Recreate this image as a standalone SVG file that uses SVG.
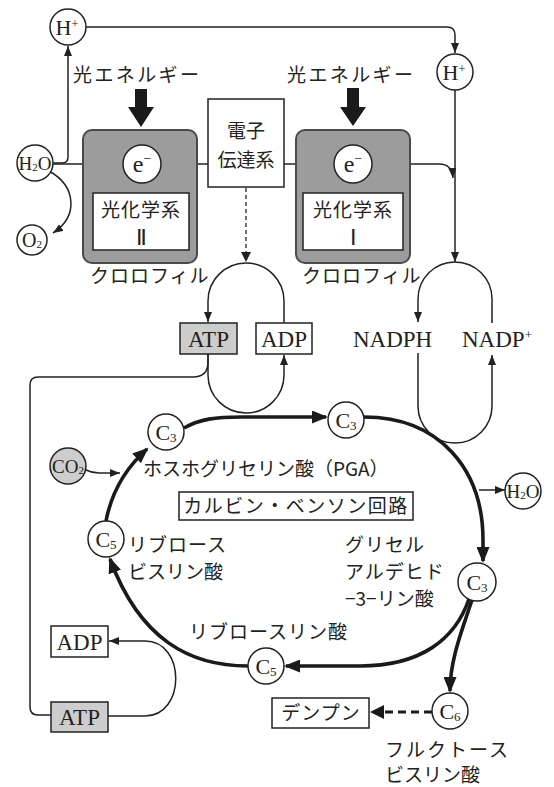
<svg xmlns="http://www.w3.org/2000/svg" width="554" height="787" viewBox="0 0 554 787">
<defs>
<marker id="a" markerUnits="userSpaceOnUse" markerWidth="10" markerHeight="8" refX="10" refY="4" orient="auto"><path d="M0,0 L10,4 L0,8 z" fill="#222"/></marker>
<marker id="b" markerUnits="userSpaceOnUse" markerWidth="16" markerHeight="13" refX="14" refY="6.5" orient="auto"><path d="M0,0 L16,6.5 L0,13 z" fill="#1a1a1a"/></marker>
<style>
.ln{fill:none;stroke:#222;stroke-width:1.5}
.tk{fill:none;stroke:#1a1a1a;stroke-width:3.6}
.nd{fill:#fff;stroke:#222;stroke-width:1.5}
.gr{fill:#cdcdcd;stroke:#222;stroke-width:1.5}
.ps{fill:#9c9c9c;stroke:#4a4a4a;stroke-width:2}
.jp{font-family:"Noto Sans CJK JP",sans-serif;font-size:19px;fill:#222}
.la{font-family:"Liberation Serif",serif;fill:#222}
.c{text-anchor:middle}
</style>
</defs>

<g id="connectors">
<path class="ln" d="M86,27 H447 Q455,27 455,35 V53" marker-end="url(#a)"/>
<path class="ln" d="M53,163 H62 Q68,163 68,157 V46" marker-end="url(#a)"/>
<path class="ln" d="M49,171 C76,186 79,216 53,233" marker-end="url(#a)"/>
<path class="ln" d="M53,164 H123"/>
<path class="ln" d="M161,164 H208"/>
<path d="M180,159 L190,164 L180,169 z" fill="#222"/>
<path class="ln" d="M284,164 H334"/>
<path d="M303,159 L313,164 L303,169 z" fill="#222"/>
<path class="ln" d="M372,164 H439 Q452,164 453,178" marker-end="url(#a)"/>
<path class="ln" d="M455,90 V262" marker-end="url(#a)"/>
<path fill="none" stroke="#222" stroke-width="1.3" stroke-dasharray="4,3" d="M246,188 V254"/>
<path d="M241,252 L246,262 L251,252 z" fill="#222"/>
<path class="ln" d="M284,323 V301 A38,38 0 0 0 208,301 V322" marker-end="url(#a)"/>
<path class="ln" d="M208,354 V375 A38,38 0 0 0 284,375 V355" marker-end="url(#a)"/>
<path class="ln" d="M492,323 V299 A37,37 0 0 0 418,299 V322" marker-end="url(#a)"/>
<path class="ln" d="M418,353 V406 A37,37 0 0 0 492,406 V355" marker-end="url(#a)"/>
<path class="ln" d="M208,354 V362 Q208,377 193,377 H38 Q30,377 30,385 V707 Q30,715 38,715 H51"/>
<path class="ln" d="M108,716 H145 C186,716 186,641 145,641 H109" marker-end="url(#a)"/>
<path class="ln" d="M86,470 Q92,473 99,473 H120" marker-end="url(#a)"/>
<path class="ln" d="M479,490 H505" marker-end="url(#a)"/>
<path class="tk" d="M184,428 C200,419 215,417 242,417 H326" marker-end="url(#b)"/>
<path class="tk" d="M364,417 C440,417 483,470 483,540 V561" marker-end="url(#b)"/>
<path class="tk" d="M469,599 C455,640 420,666 360,666 H286" marker-end="url(#b)"/>
<path class="tk" d="M472,600 C462,630 450,660 450,691" marker-end="url(#b)"/>
<path class="tk" d="M248,666 C190,666 140,640 110,559" marker-end="url(#b)"/>
<path class="tk" d="M106,521 C112,490 128,466 147,449" marker-end="url(#b)"/>
<path fill="none" stroke="#1a1a1a" stroke-width="3" stroke-dasharray="8,5" d="M432,712 H380"/>
<path d="M384,705 L370,712 L384,719 z" fill="#1a1a1a"/>
</g>

<g id="light1">
<text class="jp" x="73" y="82" style="letter-spacing:2.4px">光エネルギー</text>
<path d="M135,89 H147 V107 H154 L141,127 L128,107 H135 z" fill="#1a1a1a"/>
</g>
<g id="light2">
<text class="jp" x="287" y="82" style="letter-spacing:2.4px">光エネルギー</text>
<path d="M347,88 H359 V107 H366 L353,126 L340,107 H347 z" fill="#1a1a1a"/>
</g>

<g id="hplus1"><circle class="nd" cx="68" cy="27" r="18"/><text class="la c" x="67" y="35" font-size="22">H<tspan font-size="13" dy="-7">+</tspan></text></g>
<g id="hplus2"><circle class="nd" cx="455" cy="72" r="18"/><text class="la c" x="454" y="80" font-size="22">H<tspan font-size="13" dy="-7">+</tspan></text></g>
<g id="h2o1"><circle class="nd" cx="35" cy="163" r="18"/><text class="la c" x="35" y="170" font-size="19">H<tspan font-size="11" dy="1">2</tspan><tspan dy="-1">O</tspan></text></g>
<g id="o2"><circle class="nd" cx="32" cy="240" r="15"/><text class="la c" x="32" y="247" font-size="20">O<tspan font-size="11" dy="1">2</tspan></text></g>

<g id="ps2">
<rect class="ps" x="83" y="130" width="114" height="133" rx="9"/>
<circle class="nd" cx="142" cy="164" r="19"/>
<text class="la c" x="142" y="172" font-size="24">e<tspan font-size="14" dy="-9">−</tspan></text>
<rect x="93" y="193" width="96" height="57" fill="#fff" stroke="#222" stroke-width="1.5"/>
<text class="jp c" x="141" y="217" font-size="21" style="letter-spacing:1px">光化学系</text>
<text class="la c" x="141" y="245" font-size="22">Ⅱ</text>
<text class="jp" x="90" y="283" font-size="16" style="letter-spacing:1px">クロロフィル</text>
</g>

<g id="ets">
<rect x="208" y="99" width="76" height="88" fill="#fff" stroke="#222" stroke-width="1.5"/>
<text class="jp c" x="246" y="138" font-size="21">電子</text>
<text class="jp c" x="246" y="167" font-size="21">伝達系</text>
</g>

<g id="ps1">
<rect class="ps" x="296" y="130" width="114" height="133" rx="9"/>
<circle class="nd" cx="353" cy="164" r="19"/>
<text class="la c" x="353" y="172" font-size="24">e<tspan font-size="14" dy="-9">−</tspan></text>
<rect x="303" y="193" width="100" height="57" fill="#fff" stroke="#222" stroke-width="1.5"/>
<text class="jp c" x="353" y="217" font-size="21" style="letter-spacing:1px">光化学系</text>
<text class="la c" x="353" y="245" font-size="22">Ⅰ</text>
<text class="jp" x="302" y="283" font-size="16" style="letter-spacing:1px">クロロフィル</text>
</g>

<g id="atp1"><rect class="gr" x="180" y="323" width="57" height="31"/><text class="la c" x="208.5" y="347" font-size="23">ATP</text></g>
<g id="adp1"><rect class="nd" x="256" y="323" width="56" height="31"/><text class="la c" x="284" y="347" font-size="23">ADP</text></g>
<g id="nadph"><text class="la" x="353" y="347" font-size="23">NADPH</text></g>
<g id="nadp"><text class="la" x="462" y="347" font-size="23">NADP<tspan font-size="13" dy="-8">+</tspan></text></g>

<g id="c3a"><circle class="nd" cx="166" cy="432" r="18"/><text class="la c" x="166" y="440" font-size="22">C<tspan font-size="13" dy="2">3</tspan></text></g>
<g id="c3b"><circle class="nd" cx="346" cy="420" r="18"/><text class="la c" x="346" y="428" font-size="22">C<tspan font-size="13" dy="2">3</tspan></text></g>
<g id="c3c"><circle class="nd" cx="477" cy="582" r="19"/><text class="la c" x="477" y="590" font-size="22">C<tspan font-size="13" dy="2">3</tspan></text></g>
<g id="c5a"><circle class="nd" cx="106" cy="539" r="18"/><text class="la c" x="106" y="547" font-size="22">C<tspan font-size="13" dy="2">5</tspan></text></g>
<g id="c5b"><circle class="nd" cx="266" cy="666" r="18"/><text class="la c" x="266" y="674" font-size="22">C<tspan font-size="13" dy="2">5</tspan></text></g>
<g id="c6"><circle class="nd" cx="450" cy="711" r="18"/><text class="la c" x="450" y="719" font-size="22">C<tspan font-size="13" dy="2">6</tspan></text></g>
<g id="co2"><circle class="gr" cx="68" cy="466" r="18"/><text class="la c" x="68" y="473" font-size="19">CO<tspan font-size="11" dy="1">2</tspan></text></g>
<g id="h2o2"><circle class="nd" cx="523" cy="491" r="18"/><text class="la c" x="523" y="498" font-size="19">H<tspan font-size="11" dy="1">2</tspan><tspan dy="-1">O</tspan></text></g>

<g id="labels">
<text class="jp" x="143" y="476">ホスホグリセリン酸（PGA）</text>
<text class="jp" x="128" y="552" style="letter-spacing:1px">リブロース</text>
<text class="jp" x="128" y="579">ビスリン酸</text>
<text class="jp" x="345" y="552" style="letter-spacing:1px">グリセル</text>
<text class="jp" x="345" y="579" style="letter-spacing:1px">アルデヒド</text>
<text class="jp" x="345" y="606">−3−リン酸</text>
<text class="jp" x="189" y="639" style="letter-spacing:1px">リブロースリン酸</text>
<text class="jp" x="385" y="757" style="letter-spacing:2px">フルクトース</text>
<text class="jp" x="385" y="782">ビスリン酸</text>
</g>

<g id="calvin"><rect class="nd" x="179" y="492" width="234" height="28"/><text class="jp c" x="296" y="513" style="letter-spacing:1.5px">カルビン・ベンソン回路</text></g>
<g id="starch"><rect class="nd" x="272" y="698" width="97" height="30"/><text class="jp c" x="321" y="720" style="letter-spacing:1px">デンプン</text></g>
<g id="adp2"><rect class="nd" x="51" y="626" width="57" height="31"/><text class="la c" x="79.5" y="650" font-size="23">ADP</text></g>
<g id="atp2"><rect class="gr" x="51" y="702" width="57" height="30"/><text class="la c" x="79.5" y="725" font-size="23">ATP</text></g>
</svg>
